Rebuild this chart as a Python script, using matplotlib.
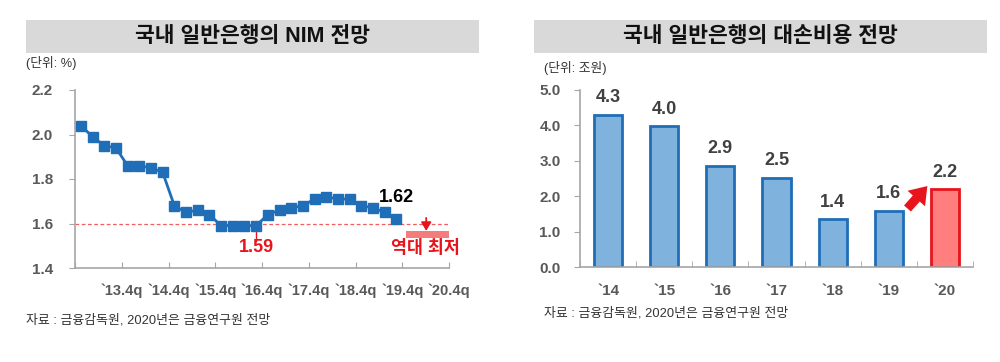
import matplotlib.pyplot as plt

plt.rcParams['font.family'] = ['Liberation Sans', 'Noto Sans CJK KR', 'DejaVu Sans']

# left chart: NIM quarterly, 2013Q1 ~ 2019Q4
nim = [2.04, 1.99, 1.95, 1.94, 1.86, 1.86, 1.85, 1.83,
       1.68, 1.65, 1.66, 1.64, 1.59, 1.59, 1.59, 1.59,
       1.64, 1.66, 1.67, 1.68, 1.71, 1.72, 1.71, 1.71,
       1.68, 1.67, 1.65, 1.62]
q_labels = ['`13.4q', '`14.4q', '`15.4q', '`16.4q', '`17.4q', '`18.4q', '`19.4q', '`20.4q']
nim_yticks = [1.4, 1.6, 1.8, 2.0, 2.2]

# right chart: loan loss cost
years = ['`14', '`15', '`16', '`17', '`18', '`19', '`20']
cost = [4.3, 3.98, 2.87, 2.52, 1.36, 1.6, 2.2]
cost_yticks = [0.0, 1.0, 2.0, 3.0, 4.0, 5.0]

blue = '#1F6EB7'
lightblue = '#7FB2DD'
red = '#E8141C'
gray = '#A6A6A6'
tickc = '#595959'

fig = plt.figure(figsize=(10, 3.62), dpi=100)

# title boxes
for x0, title in [(0.026, '국내 일반은행의 NIM 전망'), (0.534, '국내 일반은행의 대손비용 전망')]:
    fig.patches.append(plt.Rectangle((x0, 1 - 53 / 362), 0.453, 33 / 362, transform=fig.transFigure,
                                     facecolor='#D9D9D9', edgecolor='none'))
    fig.text(x0 + 0.2265, 1 - 37 / 362, title, ha='center', va='center', fontsize=15.5,
             fontweight='bold', color='#111111')

fig.text(0.026, 1 - 63 / 362, '(단위: %)', ha='left', va='center', fontsize=9.2, color='#333333')
fig.text(0.544, 1 - 68 / 362, '(단위: 조원)', ha='left', va='center', fontsize=9.2, color='#333333')
fig.text(0.026, 1 - 320 / 362, '자료 : 금융감독원, 2020년은 금융연구원 전망', ha='left', va='center',
         fontsize=9.3, color='#333333')
fig.text(0.544, 1 - 313 / 362, '자료 : 금융감독원, 2020년은 금융연구원 전망', ha='left', va='center',
         fontsize=9.3, color='#333333')

# ---- left
ax = fig.add_axes([0.075, 1 - 268 / 362, 0.374, 178 / 362])
xs = list(range(len(nim)))
ax.plot(xs, nim, color=blue, lw=2, marker='s', ms=6.5, mfc=blue, mec=blue, zorder=3)
ax.axhline(1.6, color='#F06060', lw=0.9, ls=(0, (3, 2)), zorder=1)
ax.set_xlim(-0.5, 31.5)
ax.set_ylim(1.4, 2.2)
ax.set_yticks(nim_yticks)
ax.set_yticklabels(['%.1f' % v for v in nim_yticks])
ax.set_xticks([3.5 + 4 * i for i in range(8)] + [-0.5])
ax.set_xticklabels(q_labels + [''])
ax.tick_params(axis='x', direction='in', length=4, color=gray, pad=11, labelsize=10.5, labelcolor=tickc)
ax.tick_params(axis='y', direction='out', length=4, color=gray, pad=12, labelsize=11, labelcolor=tickc)
for lb in ax.get_xticklabels() + ax.get_yticklabels():
    lb.set_fontweight('bold')
for s in ['top', 'right']:
    ax.spines[s].set_visible(False)
for s in ['left', 'bottom']:
    ax.spines[s].set_color(gray)
    ax.spines[s].set_linewidth(1.2)

# annotations
ax.add_patch(plt.Rectangle((27.8, 1.537), 4.2, 0.03, facecolor='#F47C7C', edgecolor='none'))
ax.annotate('', xy=(29.55, 1.567), xytext=(29.55, 1.625),
            arrowprops=dict(arrowstyle='-|>,head_width=0.3,head_length=0.5', color=red, lw=1.3,
                            mutation_scale=10, shrinkA=0, shrinkB=0))
ax.plot([15, 15], [1.52, 1.567], color=red, lw=1)
ax.text(15, 1.49, '1.59', ha='center', va='center', color=red, fontsize=13, fontweight='bold')
ax.text(29.5, 1.49, '역대 최저', ha='center', va='center', color=red, fontsize=12.5, fontweight='bold')
ax.text(27, 1.717, '1.62', ha='center', va='center', color='black', fontsize=13, fontweight='bold')

# ---- right
ax2 = fig.add_axes([0.58, 1 - 267.3 / 362, 0.393, 177.3 / 362])
bx = list(range(len(cost)))
fc = [lightblue] * 6 + ['#FF7F7F']
ec = [blue] * 6 + [red]
ax2.bar(bx, cost, width=0.5, color=fc, edgecolor=ec, linewidth=2, zorder=2)
for i, v in enumerate(cost):
    ax2.text(i, v + 0.48, '%.1f' % v, ha='center', va='center', fontsize=13, fontweight='bold',
             color='#404040')
ax2.annotate('', xy=(5.72, 2.35), xytext=(5.3, 1.6),
             arrowprops=dict(arrowstyle='simple,head_width=1.4,head_length=1.0,tail_width=0.55',
                             color=red, lw=0, mutation_scale=12))
ax2.set_xlim(-0.5, 6.5)
ax2.set_ylim(0, 5)
ax2.set_yticks(cost_yticks)
ax2.set_yticklabels(['%.1f' % v for v in cost_yticks])
ax2.set_xticks(bx)
ax2.set_xticklabels(years)
ax2.set_xticks([i + 0.5 for i in range(-1, 7)], minor=True)
ax2.tick_params(axis='x', which='major', length=0, pad=12, labelsize=11, labelcolor=tickc)
ax2.tick_params(axis='x', which='minor', direction='in', length=4, color=gray)
ax2.tick_params(axis='y', direction='out', length=4, color=gray, pad=10, labelsize=11, labelcolor=tickc)
for lb in ax2.get_xticklabels() + ax2.get_yticklabels():
    lb.set_fontweight('bold')
for s in ['top', 'right']:
    ax2.spines[s].set_visible(False)
for s in ['left', 'bottom']:
    ax2.spines[s].set_color(gray)
    ax2.spines[s].set_linewidth(1.2)

fig.savefig('out.png', dpi=100)
